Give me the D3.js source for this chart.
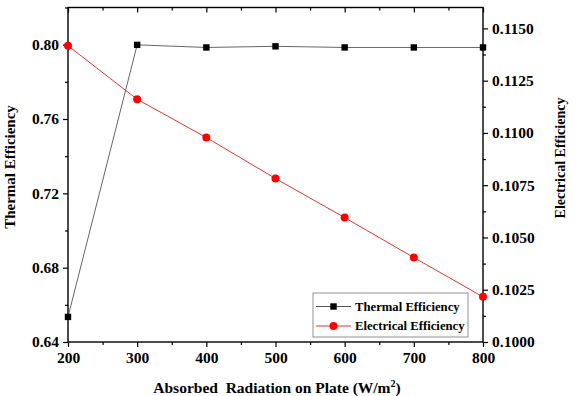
<!DOCTYPE html>
<html><head><meta charset="utf-8">
<script src="https://cdn.jsdelivr.net/npm/d3@7"></script>
<style>body{margin:0;background:#fff}svg{display:block}text{font-family:'Liberation Serif','Times New Roman',Times,serif !important;font-weight:bold;fill:#000}</style>
</head><body>
<svg id="c" width="577" height="396"></svg>
<script>
const radiation = [200, 300, 400, 500, 600, 700, 800];
const thermalEff = [0.6535, 0.7999, 0.7985, 0.7991, 0.7985, 0.7985, 0.7985];
const electricalEff = [0.11417, 0.11161, 0.10978, 0.10782, 0.10595, 0.10404, 0.10216];
const xTicks = [200, 300, 400, 500, 600, 700, 800];
const leftTicks = [0.64, 0.68, 0.72, 0.76, 0.80];
const rightTicks = [0.1000, 0.1025, 0.1050, 0.1075, 0.1100, 0.1125, 0.1150];

const svg = d3.select("#c");
const L = 68, R = 483, T = 7.5, B = 342;
const x = d3.scaleLinear().domain([200, 800]).range([L, R]);
const yL = d3.scaleLinear().domain([0.64, 0.82]).range([B, T]);
const yR = d3.scaleLinear().domain([0.100, 0.116]).range([B, T]);

svg.append("rect").attr("x", L).attr("y", T).attr("width", R - L).attr("height", B - T)
  .attr("fill", "none").attr("stroke", "#000").attr("stroke-width", 1.4);

svg.append("g").attr("transform", `translate(0,${B})`)
  .call(d3.axisBottom(x).tickValues(xTicks).tickFormat(d3.format("d")).tickSize(5).tickPadding(5));
svg.append("g").attr("transform", `translate(0,${B})`)
  .call(d3.axisBottom(x).tickValues(d3.range(250, 800, 100)).tickFormat("").tickSize(3));
svg.append("g").attr("transform", `translate(0,${T})`)
  .call(d3.axisBottom(x).tickValues(xTicks).tickFormat("").tickSize(5));
svg.append("g").attr("transform", `translate(0,${T})`)
  .call(d3.axisBottom(x).tickValues(d3.range(250, 800, 100)).tickFormat("").tickSize(3));

svg.append("g").attr("transform", `translate(${L},0)`)
  .call(d3.axisLeft(yL).tickValues(leftTicks).tickFormat(d3.format(".2f")).tickSize(5).tickPadding(4));
svg.append("g").attr("transform", `translate(${L},0)`)
  .call(d3.axisLeft(yL).tickValues([0.66, 0.70, 0.74, 0.78, 0.82]).tickFormat("").tickSize(3));

svg.append("g").attr("transform", `translate(${R},0)`)
  .call(d3.axisRight(yR).tickValues(rightTicks).tickFormat(d3.format(".4f")).tickSize(5).tickPadding(4));
svg.append("g").attr("transform", `translate(${R},0)`)
  .call(d3.axisRight(yR).tickValues([0.10125, 0.10375, 0.10625, 0.10875, 0.11125, 0.11375]).tickFormat("").tickSize(3));

svg.selectAll(".domain").remove();
svg.selectAll("g").attr("font-family", null);
svg.selectAll(".tick line").attr("stroke", "#000").attr("stroke-width", 1.2);
svg.selectAll(".tick text").style("font-size", "15.5px").attr("fill", "#000");

const tData = radiation.map((r, i) => [r, thermalEff[i]]);
svg.append("path").datum(tData).attr("fill", "none").attr("stroke", "#555").attr("stroke-width", 0.9)
  .attr("d", d3.line().x(d => x(d[0])).y(d => yL(d[1])));
svg.selectAll(".sq").data(tData).enter().append("rect")
  .attr("x", d => x(d[0]) - 3.2).attr("y", d => yL(d[1]) - 3.2).attr("width", 6.4).attr("height", 6.4).attr("fill", "#000");

const eData = radiation.map((r, i) => [r, electricalEff[i]]);
svg.append("path").datum(eData).attr("fill", "none").attr("stroke", "#e8312f").attr("stroke-width", 1)
  .attr("d", d3.line().x(d => x(d[0])).y(d => yR(d[1])));
svg.selectAll(".ci").data(eData).enter().append("circle")
  .attr("cx", d => x(d[0])).attr("cy", d => yR(d[1])).attr("r", 4).attr("fill", "#ff0000");

const lg = svg.append("g");
lg.append("rect").attr("x", 313).attr("y", 293).attr("width", 155).attr("height", 44)
  .attr("fill", "#fff").attr("stroke", "#777").attr("stroke-width", 0.8);
lg.append("line").attr("x1", 316).attr("x2", 351).attr("y1", 306.5).attr("y2", 306.5).attr("stroke", "#555");
lg.append("rect").attr("x", 330.3).attr("y", 303.3).attr("width", 6.4).attr("height", 6.4).attr("fill", "#000");
lg.append("text").attr("x", 355).attr("y", 310.8).style("font-size", "12.7px").text("Thermal Efficiency");
lg.append("line").attr("x1", 316).attr("x2", 351).attr("y1", 326).attr("y2", 326).attr("stroke", "#e8312f");
lg.append("circle").attr("cx", 333.5).attr("cy", 326).attr("r", 4).attr("fill", "#ff0000");
lg.append("text").attr("x", 355).attr("y", 330.3).style("font-size", "12.7px").text("Electrical Efficiency");

const xt = svg.append("text").attr("x", 277).attr("y", 393).attr("text-anchor", "middle").style("font-size", "15.5px");
xt.append("tspan").text("Absorbed\u00a0 Radiation on Plate (W/m");
xt.append("tspan").attr("dy", -6).style("font-size", "10px").text("2");
xt.append("tspan").attr("dy", 6).text(")");

svg.append("text").attr("transform", "translate(15,167) rotate(-90)").attr("text-anchor", "middle")
  .style("font-size", "15px").text("Thermal Efficiency");
svg.append("text").attr("transform", "translate(565,158) rotate(-90)").attr("text-anchor", "middle")
  .style("font-size", "14px").text("Electrical Efficiency");
</script>
</body></html>
